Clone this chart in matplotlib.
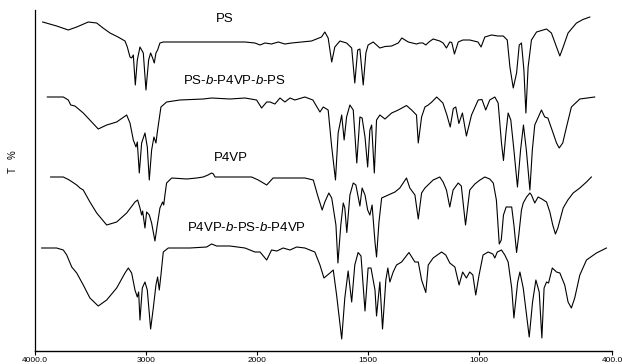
import numpy as np
import matplotlib
matplotlib.use("Agg")
import matplotlib.pyplot as plt

plt.rcParams['font.family'] = ['Liberation Sans', 'DejaVu Sans']
plt.rcParams['mathtext.fontset'] = 'custom'
plt.rcParams['mathtext.rm'] = 'Liberation Sans'
plt.rcParams['mathtext.it'] = 'Liberation Sans:italic'

# ---- data (wavenumber cm-1, transmittance arbitrary offset units) ----
ps_wn = [3931, 3805, 3700, 3624, 3520, 3444, 3387, 3324, 3252, 3189, 3168, 3144, 3129, 3114, 3096, 3078, 3054, 3024, 3000, 2976, 2958, 2940, 2925, 2910, 2895, 2874, 2844, 2694, 2514, 2288, 2108, 2018, 1986, 1964, 1934, 1904, 1874, 1844, 1754, 1709, 1694, 1679, 1663, 1649, 1626, 1596, 1573, 1559, 1546, 1536, 1521, 1509, 1499, 1476, 1446, 1423, 1393, 1363, 1347, 1318, 1281, 1266, 1252, 1239, 1225, 1206, 1176, 1161, 1146, 1131, 1122, 1110, 1093, 1072, 1041, 1004, 990, 973, 943, 914, 890, 872, 860, 845, 830, 818, 808, 797, 788, 778, 763, 740, 695, 673, 650, 635, 620, 598, 560, 531, 500]
ps_t = [329, 325, 321, 324, 329, 328, 323, 318, 314, 310, 304, 294, 293, 296, 266, 291, 304, 298, 261, 291, 298, 293, 288, 298, 301, 308, 309, 309, 309, 309, 309, 308, 306, 308, 307, 309, 307, 308, 310, 314, 319, 313, 289, 304, 310, 308, 303, 268, 301, 302, 266, 298, 306, 309, 303, 304.5, 305, 308, 313, 309, 307, 308, 308, 306, 309, 312, 310, 308, 303, 309, 308.5, 297, 309, 311, 311, 309, 304, 314, 316, 315, 315, 311, 284, 263, 278, 306, 308, 281, 238, 284, 311, 319, 322, 318, 304, 295, 304, 318, 328, 331.5, 334]

tri1_wn = [3889, 3745, 3700, 3678, 3640, 3565, 3489, 3430, 3354, 3264, 3174, 3144, 3114, 3090, 3078, 3060, 3039, 3009, 2988, 2970, 2949, 2928, 2910, 2895, 2865, 2814, 2694, 2484, 2408, 2243, 2108, 2003, 1979, 1956, 1941, 1919, 1896, 1874, 1851, 1829, 1784, 1748, 1716, 1701, 1679, 1663, 1646, 1634, 1618, 1607, 1596, 1581, 1566, 1550, 1536, 1526, 1513, 1501, 1491, 1483, 1471, 1461, 1446, 1423, 1393, 1363, 1326, 1303, 1281, 1273, 1258, 1243, 1228, 1212, 1190, 1162, 1144, 1129, 1115, 1104, 1090, 1074, 1056, 1033, 1003, 986, 969, 951, 928, 913, 898, 889, 878, 868, 856, 842, 826, 812, 799, 786, 770, 759, 748, 734, 718, 703, 689, 667, 650, 638, 622, 605, 583, 545, 478]
tri1_t = [254, 254, 251, 246, 245, 238, 229, 222, 226, 229, 236, 228, 211, 204, 209, 178, 208, 218, 204, 171, 201, 214, 208, 221, 244, 249, 251, 252, 253, 252, 253, 251, 243, 249, 249, 247, 253, 249, 253, 251, 254, 251, 239, 244, 241, 204, 171, 218, 236, 211, 234, 246, 241, 188, 234, 233, 214, 184, 221, 226, 178, 231, 236, 232, 238, 241, 245.5, 241, 236, 208, 234, 244, 246, 249, 254, 248, 236, 224, 242.5, 244, 227.5, 238, 215, 236, 251, 251.5, 241, 251, 254, 248, 208, 190.5, 218, 238, 231, 201, 164, 201, 226, 201, 161, 201, 226, 233, 241, 234, 233, 219, 208, 203, 208, 224, 244, 252, 254]

p4vp_wn = [3859, 3745, 3691, 3624, 3595, 3565, 3505, 3444, 3354, 3264, 3174, 3099, 3075, 3054, 3039, 3030, 3009, 2994, 2970, 2949, 2934, 2919, 2898, 2874, 2850, 2840, 2829, 2814, 2768, 2633, 2543, 2484, 2441, 2408, 2392, 2378, 2243, 2048, 1994, 1956, 1927, 1844, 1784, 1746, 1727, 1706, 1694, 1676, 1663, 1644, 1635, 1622, 1611, 1604, 1595, 1581, 1566, 1554, 1536, 1526, 1513, 1501, 1491, 1481, 1468, 1461, 1450, 1438, 1408, 1378, 1356, 1326, 1311, 1288, 1273, 1258, 1243, 1206, 1176, 1161, 1146, 1131, 1116, 1093, 1079, 1060, 1041, 1018, 995, 973, 951, 935, 921, 908, 899, 889, 877, 852, 842, 830, 820, 808, 800, 785, 770, 763, 748, 733, 716, 695, 680, 667, 655, 644, 620, 599, 575, 545, 515, 493]
p4vp_t = [174, 174, 171, 166, 163, 161, 149, 138, 126, 129, 138, 149, 151, 143, 136, 140, 123, 139, 136, 128, 119, 110, 126, 143, 149, 146, 156, 168, 173, 172, 173, 174, 176, 178, 177, 174, 174, 174, 171, 166, 173, 173, 173, 171, 156, 141, 149, 158, 153, 126, 88, 126, 148, 143, 118.5, 156, 168, 166, 145, 163, 156, 141, 136, 146, 109, 94, 129, 153, 156, 159, 163, 173, 163, 156, 132, 158, 163, 171, 174, 169, 161, 144, 161, 168, 165, 126, 161, 167, 171, 174, 172, 168, 151, 107, 111, 136, 144, 144, 126, 98.5, 116, 141, 148, 154, 158, 156, 148, 154, 152, 149, 139, 126, 117, 123, 143, 151, 158, 163, 169, 174]

tri2_wn = [3940, 3805, 3745, 3714, 3669, 3624, 3565, 3505, 3430, 3354, 3264, 3189, 3159, 3129, 3099, 3078, 3066, 3054, 3033, 3009, 2988, 2958, 2934, 2910, 2895, 2880, 2865, 2844, 2799, 2604, 2453, 2408, 2363, 2243, 2108, 2018, 1986, 1956, 1934, 1910, 1882, 1851, 1821, 1784, 1739, 1716, 1698, 1671, 1656, 1641, 1618, 1604, 1589, 1573, 1559, 1544, 1531, 1513, 1499, 1486, 1468, 1461, 1446, 1434, 1419, 1410, 1401, 1386, 1371, 1348, 1315, 1288, 1273, 1258, 1239, 1228, 1206, 1168, 1149, 1131, 1108, 1089, 1073, 1056, 1041, 1027, 1014, 999, 981, 958, 937, 928, 917, 898, 883, 868, 852, 842, 825, 815, 800, 785, 773, 758, 743, 728, 716, 706, 695, 686, 669, 650, 635, 613, 598, 583, 568, 545, 515, 470, 425]
tri2_t = [103, 103, 101, 96, 84, 78, 66, 53, 45, 51, 63, 78, 83, 78, 61, 54, 59, 31, 63, 69, 61, 22, 43, 66, 74, 61, 76, 99, 103, 103, 104, 107, 105, 105, 103, 99, 99, 91, 101, 100, 103, 101, 104, 103, 99, 86, 73, 78, 81, 56, 12, 53, 80, 49, 86, 98.5, 95, 40, 83, 83, 61, 35, 69, 22, 71, 83, 69, 79, 86, 89, 98.5, 89, 89, 71, 58.5, 86, 93, 99, 96, 88, 84, 66, 79, 73, 79, 76, 56, 76, 96, 99, 97, 93, 99, 101, 96, 89, 63, 33, 69, 79, 63, 36, 14, 49, 71, 59, 13, 63, 69, 68, 83, 79, 78, 66, 49, 43, 53, 76, 91, 98, 103]

labels = ['PS', r'PS-$\it{b}$-P4VP-$\it{b}$-PS', 'P4VP', r'P4VP-$\it{b}$-PS-$\it{b}$-P4VP']
tick_vals = [4000, 3000, 2000, 1500, 1000, 400]
tick_labels = ['4000.0', '3000', '2000', '1500', '1000', '400.0']


def fwd(w):
    w = np.asarray(w, dtype=float)
    return np.where(w <= 2000, w, 2000 + (w - 2000) / 2.0)


def inv(u):
    u = np.asarray(u, dtype=float)
    return np.where(u <= 2000, u, 2000 + (u - 2000) * 2.0)


fig = plt.figure(figsize=(6.22, 3.64), dpi=100)
ax = fig.add_axes([35 / 622, 13 / 364, 577 / 622, 341 / 364])
ax.set_xscale('function', functions=(fwd, inv))

for wn, t in [(ps_wn, ps_t), (tri1_wn, tri1_t), (p4vp_wn, p4vp_t), (tri2_wn, tri2_t)]:
    ax.plot(wn, t, color='black', lw=0.8)

ax.set_xlim(4000, 400)
ax.set_ylim(0, 341)
ax.set_xticks(tick_vals)
ax.set_xticklabels(tick_labels, fontsize=6)
ax.xaxis.set_minor_locator(matplotlib.ticker.NullLocator())
ax.tick_params(axis='x', direction='out', length=3, width=0.8, pad=1)
ax.set_yticks([])
for s in ['top', 'right']:
    ax.spines[s].set_visible(False)
ax.spines['left'].set_linewidth(0.9)
ax.spines['bottom'].set_linewidth(1.0)

label_pos = [(0.329, 0.974), (0.346, 0.793), (0.340, 0.567), (0.367, 0.361)]
for lab, (lx, ly) in zip(labels, label_pos):
    ax.text(lx, ly, lab, transform=ax.transAxes, ha='center', va='center', fontsize=9.5)

fig.text(12.5 / 622, 1 - 162 / 364, 'T   %', rotation=90, ha='center', va='center', fontsize=7)

fig.savefig('out.png', dpi=100)
